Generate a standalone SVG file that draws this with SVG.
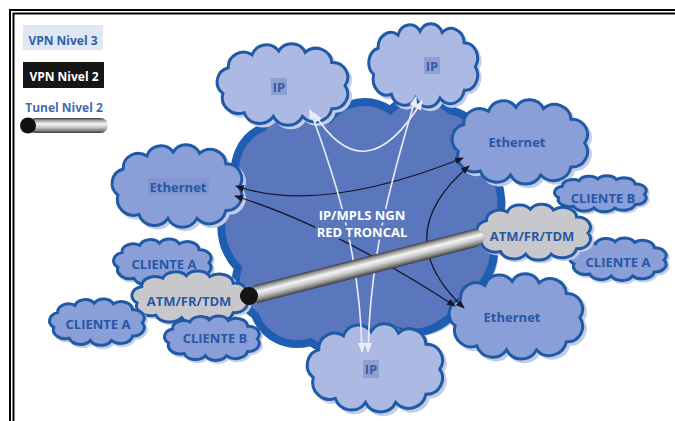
<svg xmlns="http://www.w3.org/2000/svg" width="675" height="421" viewBox="0 0 675 421">
<defs>
<style>
.t{font-family:"Open Sans","Liberation Sans",sans-serif;font-weight:700;text-anchor:middle}
.lbl{font-size:13px;fill:#2757a5}
.ipl{font-size:13px;fill:#3a5aa0}
.ip{fill:#abb9e3;stroke:#1f5aa6;stroke-width:3}
.eth{fill:#8a9ed8;stroke:#1f5aa6;stroke-width:3}
.atm{fill:#c8c8cc;stroke:#1f5aa6;stroke-width:3}
.sh{fill:#c3cbe7;stroke:#c3cbe7;stroke-width:3}
.hl{fill:#8d9fd4}
.blk{fill:none;stroke:#16182a;stroke-width:1.3}
.wht{fill:none;stroke:#e8edf8;stroke-width:1.6}
</style>
<path id="cl" vector-effect="non-scaling-stroke" d="M6,40 A11.4,11.4 0 0 1 10,20 A11.5,11.5 0 0 1 28,10 A11.3,11.3 0 0 1 48,7 A11.2,11.2 0 0 1 68,8 A12,12 0 0 1 88,16 A11.5,11.5 0 0 1 98,34 A11.5,11.5 0 0 1 88,52 A12.8,12.8 0 0 1 66,58 A12.3,12.3 0 0 1 44,58 A12.4,12.4 0 0 1 22,55 A12.4,12.4 0 0 1 6,40 Z"/>
<linearGradient id="tube" x1="0" y1="0" x2="0" y2="1">
<stop offset="0" stop-color="#3a3a3a"/>
<stop offset="0.15" stop-color="#9a9a9a"/>
<stop offset="0.38" stop-color="#f4f4f4"/>
<stop offset="0.6" stop-color="#cfcfcf"/>
<stop offset="0.82" stop-color="#8a8a8a"/>
<stop offset="1" stop-color="#3a3a3a"/>
</linearGradient>
<marker id="ab" viewBox="0 0 10 8" refX="9" refY="4" markerWidth="9" markerHeight="7" markerUnits="userSpaceOnUse" orient="auto-start-reverse"><path d="M0,0 L10,4 L0,8 Z" fill="#16182a"/></marker>
<marker id="aw" viewBox="0 0 10 8" refX="9" refY="4" markerWidth="10" markerHeight="8" markerUnits="userSpaceOnUse" orient="auto-start-reverse"><path d="M0,0 L10,4 L0,8 Z" fill="#e8edf8"/></marker>
</defs>
<rect width="675" height="421" fill="#ffffff"/>
<g id="frame" fill="none" stroke="#000">
<path d="M10,421 V10 H675" stroke-width="2"/>
<path d="M13.5,421 V13.5 H675" stroke-width="2"/>
</g>
<g id="legend">
<rect x="23" y="25" width="80" height="25" fill="#dfe6f4"/>
<text class="t" x="63" y="45" font-size="12" fill="#2f5fa8" font-weight="600">VPN Nivel 3</text>
<rect x="23" y="62" width="81" height="26" fill="#161616"/>
<text class="t" x="64" y="81" font-size="12" fill="#ffffff">VPN Nivel 2</text>
<text class="t" x="64" y="112" font-size="12" fill="#3f6db3" font-weight="600">Tunel Nivel 2</text>
<rect x="28" y="118" width="80" height="15" rx="7.5" fill="url(#tube)"/>
<circle cx="28" cy="125.5" r="8" fill="#111"/>
</g>
<g id="core">
<path transform="translate(4,4)" fill="#a9b8e2" d="M238,268 A60,60 0 0 1 238,185 A45,45 0 0 1 262,128 A50,50 0 0 1 330,118 A45,45 0 0 1 390,110 A45,45 0 0 1 450,110 A50,50 0 0 1 488,165 A60,60 0 0 1 492,235 A55,55 0 0 1 462,300 A55,55 0 0 1 395,330 A65,65 0 0 1 310,342 A45,45 0 0 1 255,315 A40,40 0 0 1 238,268 Z"/>
<path fill="#5a77bd" stroke="#1f5db3" stroke-width="8" d="M238,268 A60,60 0 0 1 238,185 A45,45 0 0 1 262,128 A50,50 0 0 1 330,118 A45,45 0 0 1 390,110 A45,45 0 0 1 450,110 A50,50 0 0 1 488,165 A60,60 0 0 1 492,235 A55,55 0 0 1 462,300 A55,55 0 0 1 395,330 A65,65 0 0 1 310,342 A45,45 0 0 1 255,315 A40,40 0 0 1 238,268 Z"/>
</g>
<g id="eth-right-top">
<g transform="translate(450,98) scale(1.375,1.328)"><use href="#cl" class="sh" x="2" y="2"/><use href="#cl" class="eth"/></g>
<text class="t lbl" x="517" y="147">Ethernet</text>
</g>
<g id="ip-left">
<g transform="translate(215,42) scale(1.327,1.284)"><use href="#cl" class="sh" x="2" y="2"/><use href="#cl" class="ip"/></g>
<rect class="hl" x="271" y="78" width="16" height="17"/>
<text class="t ipl" x="279" y="92">IP</text>
</g>
<g id="ip-right">
<g transform="translate(367,22) scale(1.106,1.313)"><use href="#cl" class="sh" x="2" y="2"/><use href="#cl" class="ip"/></g>
<rect class="hl" x="424" y="57" width="16" height="17"/>
<text class="t ipl" x="432" y="71">IP</text>
</g>
<g id="cliente-b-right">
<g transform="translate(553,175) scale(0.933,0.567)"><use href="#cl" class="sh" x="2" y="3"/><use href="#cl" class="eth"/></g>
<text class="t lbl" x="603" y="203">CLIENTE B</text>
</g>
<g id="cliente-a-right">
<g transform="translate(568,237) scale(0.981,0.672)"><use href="#cl" class="sh" x="2" y="3"/><use href="#cl" class="eth"/></g>
<text class="t lbl" x="618" y="267">CLIENTE A</text>
</g>
<g id="atm-right">
<g transform="translate(475,203) scale(1.154,0.881)"><use href="#cl" class="sh" x="2" y="2"/><use href="#cl" class="atm"/></g>
<text class="t lbl" x="532" y="241" font-size="13.5">ATM/FR/TDM</text>
</g>
<g id="eth-right-bottom">
<g transform="translate(447,272) scale(1.356,1.343)"><use href="#cl" class="sh" x="2" y="2"/><use href="#cl" class="eth"/></g>
<text class="t lbl" x="512" y="322">Ethernet</text>
</g>
<g id="ip-bottom">
<g transform="translate(305,322) scale(1.375,1.388)"><use href="#cl" class="sh" x="2" y="2"/><use href="#cl" class="ip"/></g>
<rect class="hl" x="363" y="360" width="16" height="18"/>
<text class="t ipl" x="371" y="374">IP</text>
</g>
<g id="eth-left">
<g transform="translate(110,143) scale(1.317,1.299)"><use href="#cl" class="sh" x="2" y="2"/><use href="#cl" class="eth"/></g>
<rect x="148" y="178" width="61" height="17" fill="#8396d0"/>
<text class="t lbl" x="178" y="192">Ethernet</text>
</g>
<g id="cliente-a-left-top">
<g transform="translate(112,238) scale(0.990,0.731)"><use href="#cl" class="sh" x="2" y="3"/><use href="#cl" class="eth"/></g>
<text class="t lbl" x="164" y="269">CLIENTE A</text>
</g>
<g id="atm-left">
<g transform="translate(130,270) scale(1.173,0.821)"><use href="#cl" class="sh" x="2" y="2"/><use href="#cl" class="atm"/></g>
<text class="t lbl" x="189" y="306" font-size="13.5">ATM/FR/TDM</text>
</g>
<g id="cliente-a-left-bottom">
<g transform="translate(48,298) scale(0.962,0.731)"><use href="#cl" class="sh" x="2" y="3"/><use href="#cl" class="eth"/></g>
<text class="t lbl" x="98" y="329">CLIENTE A</text>
</g>
<g id="cliente-b-left">
<g transform="translate(163,315) scale(0.962,0.701)"><use href="#cl" class="sh" x="2" y="3"/><use href="#cl" class="eth"/></g>
<text class="t lbl" x="215" y="343">CLIENTE B</text>
</g>
<g id="connectors">
<path class="blk" d="M236,186 Q320,215 463,158" marker-start="url(#ab)" marker-end="url(#ab)"/>
<path class="blk" d="M235,196 Q330,225 455,306" marker-start="url(#ab)" marker-end="url(#ab)"/>
<path class="blk" d="M469,166 Q387,236 464,308" marker-start="url(#ab)" marker-end="url(#ab)"/>
<path class="wht" d="M314,113 Q365,195 422,101" marker-start="url(#aw)" marker-end="url(#aw)"/>
<path class="wht" d="M310,110 C340,190 360,260 362,352" marker-start="url(#aw)" marker-end="url(#aw)"/>
<path class="wht" d="M416,97 C388,190 370,260 368,352" marker-start="url(#aw)" marker-end="url(#aw)"/>
</g>
<g id="tunnel" transform="translate(249,296) rotate(-14.38)">
<rect x="0" y="-9" width="242" height="18" rx="9" fill="url(#tube)"/>
<circle cx="0" cy="0" r="9" fill="#151515"/>
</g>
<g id="core-label">
<text class="t" x="362" y="220" font-size="13" fill="#ffffff" stroke="#5a77bd" stroke-width="5" paint-order="stroke" stroke-linejoin="round">IP/MPLS NGN</text>
<text class="t" x="362" y="237" font-size="13" fill="#ffffff" stroke="#5a77bd" stroke-width="5" paint-order="stroke" stroke-linejoin="round">RED TRONCAL</text>
</g>
</svg>
